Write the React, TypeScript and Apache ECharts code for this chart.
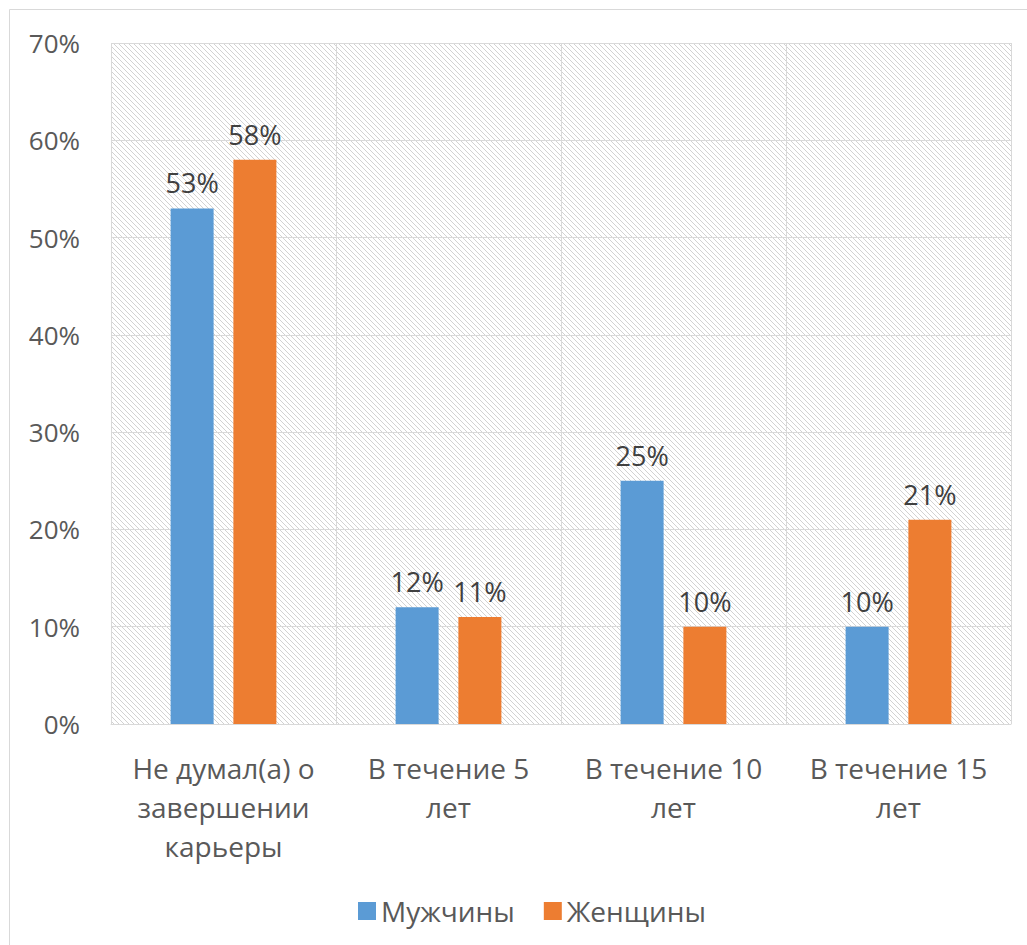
import React, { useEffect, useRef } from "react";
import * as echarts from "echarts";

const categories = [
  "Не думал(а) о\nзавершении\nкарьеры",
  "В течение 5\nлет",
  "В течение 10\nлет",
  "В течение 15\nлет",
];
const men = [53, 12, 25, 10];
const women = [58, 11, 10, 21];
const seriesNames = ["Мужчины", "Женщины"];

const FONT = "Open Sans";

const hatchSvg =
  "data:image/svg+xml;utf8," +
  encodeURIComponent(
    '<svg xmlns="http://www.w3.org/2000/svg" width="5" height="5">' +
      '<line x1="-1" y1="-1" x2="6" y2="6" stroke="#d2d2d2" stroke-width="1"/>' +
      "</svg>"
  );

export default function App() {
  const ref = useRef<HTMLDivElement>(null);
  useEffect(() => {
    if (!ref.current) return;
    const chart = echarts.init(ref.current, undefined, { renderer: "svg" });
    const labelStyle = {
      show: true,
      position: "top",
      distance: 12,
      formatter: "{c}%",
      color: "#404040",
      fontSize: 27,
      fontFamily: FONT,
    };
    chart.setOption({
      animation: false,
      backgroundColor: "#ffffff",
      textStyle: { fontFamily: FONT },
      graphic: [
        {
          type: "rect",
          shape: { x: 9.5, y: 9.5, width: 1100, height: 1000 },
          style: { fill: "none", stroke: "#d9d9d9", lineWidth: 1 },
          silent: true,
          z: -10,
        },
      ],
      grid: {
        left: 111,
        top: 43,
        right: 16,
        bottom: 221,
        show: true,
        borderWidth: 0,
        backgroundColor: { image: hatchSvg, repeat: "repeat" },
      },
      legend: {
        left: 353,
        top: 892,
        itemWidth: 18,
        itemHeight: 18,
        itemGap: 29,
        icon: "rect",
        textStyle: { fontSize: 28, color: "#595959", fontFamily: FONT },
        data: seriesNames,
      },
      xAxis: {
        type: "category",
        data: categories,
        axisLine: { show: true, lineStyle: { color: "#d9d9d9", width: 1 } },
        axisTick: { show: false },
        splitLine: { show: true, interval: 0, lineStyle: { color: "#d9d9d9", width: 1 } },
        axisLabel: {
          interval: 0,
          fontSize: 28,
          color: "#595959",
          fontFamily: FONT,
          lineHeight: 39,
          margin: 24,
        },
      },
      yAxis: {
        type: "value",
        min: 0,
        max: 70,
        interval: 10,
        axisLine: { show: false },
        axisTick: { show: false },
        splitLine: { show: true, lineStyle: { color: "#d9d9d9", width: 1 } },
        axisLabel: {
          formatter: "{value}%",
          fontSize: 26,
          color: "#595959",
          fontFamily: FONT,
          margin: 31,
        },
      },
      series: [
        {
          name: seriesNames[0],
          type: "bar",
          data: men,
          barWidth: 43,
          barGap: "46%",
          itemStyle: { color: "#5b9bd5" },
          label: labelStyle,
        },
        {
          name: seriesNames[1],
          type: "bar",
          data: women,
          barWidth: 43,
          itemStyle: { color: "#ed7d31" },
          label: labelStyle,
        },
      ],
    });
    return () => chart.dispose();
  }, []);
  return (
    <div
      ref={ref}
      style={{ position: "fixed", left: 0, top: 0, width: 1027, height: 945 }}
    />
  );
}
